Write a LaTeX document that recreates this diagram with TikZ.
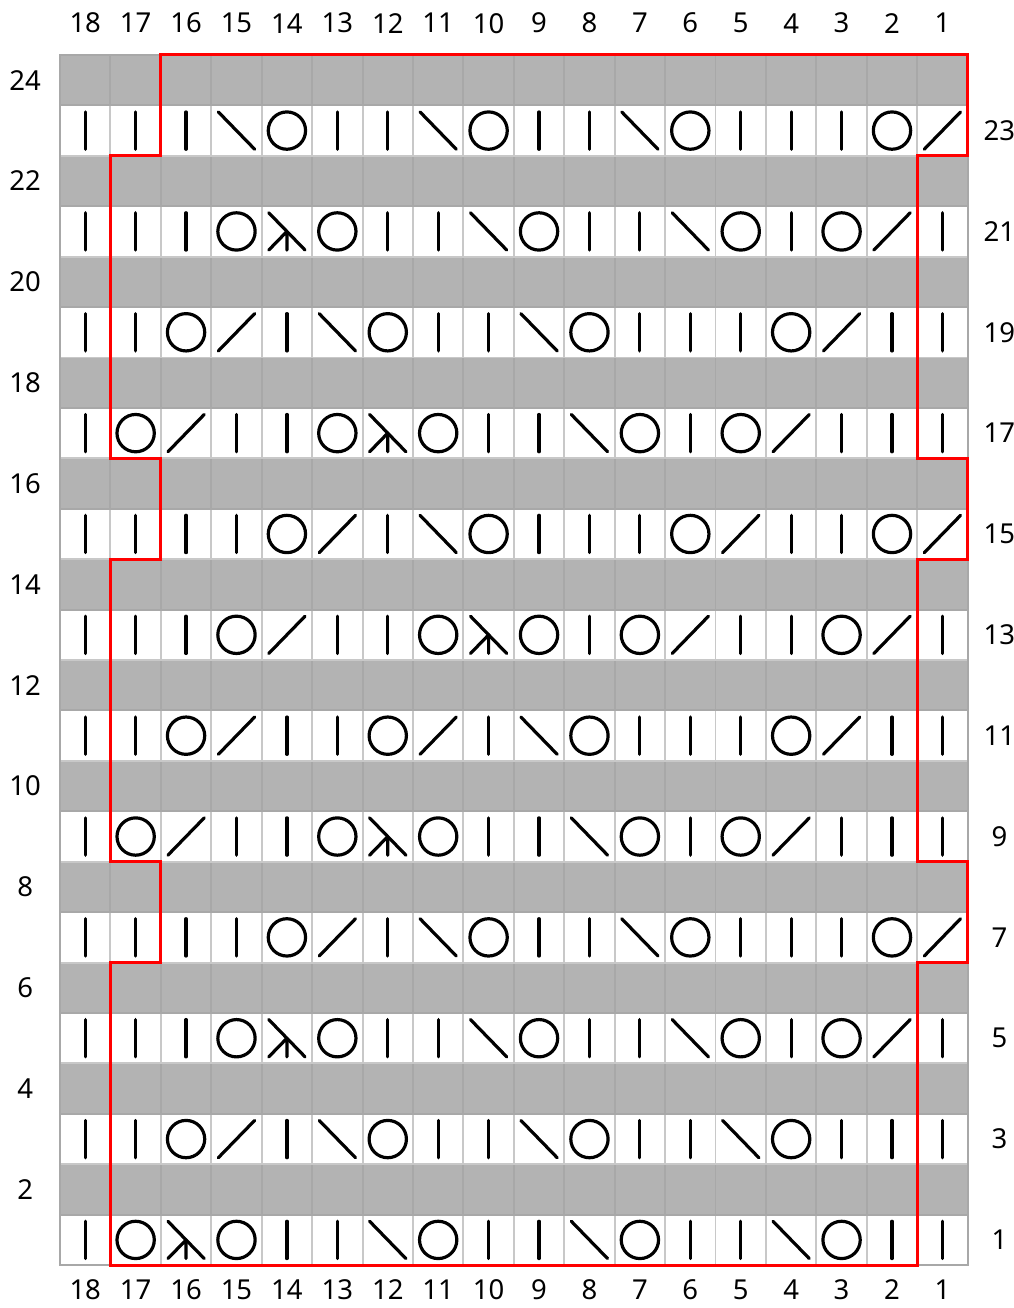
\documentclass[tikz,border=0pt]{standalone}
\usepackage{fontspec}
\setmainfont{Noto Sans}
\usepackage{tikz}
\definecolor{chartgray}{RGB}{179,179,179}
\definecolor{gridline}{RGB}{200,200,200}
\definecolor{gridshade}{RGB}{168,168,168}
\definecolor{repred}{RGB}{255,0,0}

\begin{document}
\begin{tikzpicture}[
      wcell/.style={draw=gridline,line width=1.1pt,fill=white},
      gcell/.style={draw=gridshade,line width=1.1pt,fill=chartgray},
      stitch/.style={line width=1.8pt,line cap=round,line join=round},
      num/.style={font=\fontsize{15.5}{18}\selectfont,inner sep=0pt},
      rep/.style={draw=repred,line width=1.7pt},
      k/.pic={\draw[stitch] (0,-0.37) -- (0,0.37);},
      yo/.pic={\draw[stitch] (0,0) circle (0.37);},
      ktog/.pic={\draw[stitch] (-0.36,-0.37) -- (0.36,0.37);},
      ssk/.pic={\draw[stitch] (-0.36,0.37) -- (0.36,-0.37);},
      skp/.pic={\draw[stitch] (-0.36,0.37) -- (0.36,-0.37);
                \draw[stitch] (-0.36,-0.37) -- (0,0) -- (0,-0.37);}]
    \useasboundingbox (-1.19,-0.85) rectangle (18.91,25.09);
    \foreach \r in {1,...,24} {
      \ifodd\r \def\cellkind{wcell}\else\def\cellkind{gcell}\fi
      \foreach \c in {1,...,18}
        \draw[\cellkind] (\c-1,\r-1) rectangle ++(1,1);
    }
    \draw[gridshade,line width=1.1pt] (0,0) rectangle (18,24);
    \foreach \r/\row in {
        23/{k,k,k,ssk,yo,k,k,ssk,yo,k,k,ssk,yo,k,k,k,yo,ktog},
        21/{k,k,k,yo,skp,yo,k,k,ssk,yo,k,k,ssk,yo,k,yo,ktog,k},
        19/{k,k,yo,ktog,k,ssk,yo,k,k,ssk,yo,k,k,k,yo,ktog,k,k},
        17/{k,yo,ktog,k,k,yo,skp,yo,k,k,ssk,yo,k,yo,ktog,k,k,k},
        15/{k,k,k,k,yo,ktog,k,ssk,yo,k,k,k,yo,ktog,k,k,yo,ktog},
        13/{k,k,k,yo,ktog,k,k,yo,skp,yo,k,yo,ktog,k,k,yo,ktog,k},
        11/{k,k,yo,ktog,k,k,yo,ktog,k,ssk,yo,k,k,k,yo,ktog,k,k},
        9/{k,yo,ktog,k,k,yo,skp,yo,k,k,ssk,yo,k,yo,ktog,k,k,k},
        7/{k,k,k,k,yo,ktog,k,ssk,yo,k,k,ssk,yo,k,k,k,yo,ktog},
        5/{k,k,k,yo,skp,yo,k,k,ssk,yo,k,k,ssk,yo,k,yo,ktog,k},
        3/{k,k,yo,ktog,k,ssk,yo,k,k,ssk,yo,k,k,ssk,yo,k,k,k},
        1/{k,yo,skp,yo,k,k,ssk,yo,k,k,ssk,yo,k,k,ssk,yo,k,k}}
      \foreach \s [count=\c] in \row
        \pic at (\c-0.5,\r-0.5) {\s};
    \draw[rep] (2,24) -- (18,24) -- (18,22) -- (17,22) -- (17,16) -- (18,16)
      -- (18,14) -- (17,14) -- (17,8) -- (18,8) -- (18,6) -- (17,6) -- (17,0)
      -- (1,0) -- (1,6) -- (2,6) -- (2,8) -- (1,8) -- (1,14) -- (2,14)
      -- (2,16) -- (1,16) -- (1,22) -- (2,22) -- cycle;
    \foreach \n in {1,...,18} {
      \node[num] (ct\n) at (18.5-\n,24.63) {\n};
      \node[num] (cb\n) at (18.5-\n,-0.49) {\n};
    }
    \foreach \r in {2,4,...,24}
      \node[num] (rl\r) at (-0.69,\r-0.5) {\r};
    \foreach \r in {1,3,...,23}
      \node[num] (rr\r) at (18.63,\r-0.5) {\r};
  \end{tikzpicture}
\end{document}
